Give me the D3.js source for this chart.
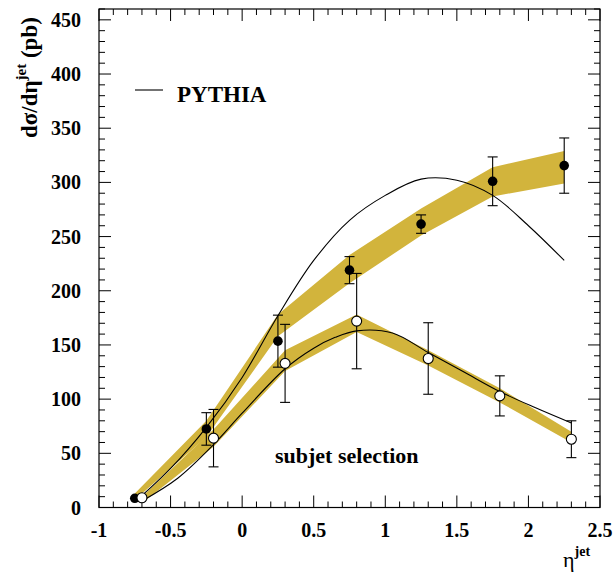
<!DOCTYPE html>
<html lang="en">
<head>
    <meta charset="UTF-8">
    <script src="https://d3js.org/d3.v7.min.js"></script>
    <style>
        body { margin: 0; background: white; }
        text { font-family: "Liberation Serif", "Times New Roman", serif; font-weight: bold; }
    </style>
</head>
<body>
<script>
    // filled points (left) and open points (subjet selection)
    var etaFull = [-0.75, -0.25, 0.25, 0.75, 1.25, 1.75, 2.25];
    var valFull = [8.5, 72.5, 153.5, 219, 261.5, 301, 315.5];
    var errFull = [1.5, 15, 24, 12.5, 8.5, 22.5, 25.5];
    var bandFullLo = [7, 65, 158, 207, 251, 287, 299];
    var bandFullHi = [13, 80, 178, 233, 276, 314, 329];

    var etaSub = [-0.7, -0.2, 0.3, 0.8, 1.3, 1.8, 2.3];
    var valSub = [9, 64, 133, 172, 137.5, 103, 63];
    var errSub = [1.5, 26.5, 36, 44, 33, 18.5, 17];
    var bandSubLo = [4, 56, 126, 162, 131, 97, 60];
    var bandSubHi = [10, 72, 145, 178, 145, 110, 70];

    // PYTHIA predictions
    var pyFullEta = [-0.75, -0.5, -0.25, 0, 0.25, 0.5, 0.75, 1.0, 1.25, 1.5, 1.75, 2.0, 2.25];
    var pyFullVal = [5, 36, 74, 120, 177, 228, 265, 288, 303, 302, 288, 260, 228];
    var pySubEta = [-0.7, -0.45, -0.2, 0, 0.3, 0.5, 0.65, 0.8, 1.05, 1.3, 1.55, 1.8, 2.05, 2.3];
    var pySubVal = [6, 27, 58, 87, 128, 147, 157, 163, 161, 143, 125, 107, 92, 78];

    var xTicks = [-1, -0.5, 0, 0.5, 1, 1.5, 2, 2.5];
    var yTicks = [0, 50, 100, 150, 200, 250, 300, 350, 400, 450];

    var W = 614, H = 574;
    var frameL = 99, frameR = 600, frameT = 9, frameB = 507.5;
    var bandColor = "#d2b43c";

    var svg = d3.select("body").append("svg")
        .attr("width", W)
        .attr("height", H);

    var x = d3.scaleLinear().domain([-1, 2.5]).range([frameL, frameR]);
    var y = d3.scaleLinear().domain([0, 460]).range([frameB, frameT]);

    function bandData(eta, lo, hi) {
        return eta.map(function(e, i) { return {x: e, lo: lo[i], hi: hi[i]}; });
    }
    var area = d3.area()
        .x(function(d) { return x(d.x); })
        .y0(function(d) { return y(d.lo); })
        .y1(function(d) { return y(d.hi); });

    svg.append("path").datum(bandData(etaFull, bandFullLo, bandFullHi))
        .attr("d", area).attr("fill", bandColor);
    svg.append("path").datum(bandData(etaSub, bandSubLo, bandSubHi))
        .attr("d", area).attr("fill", bandColor);

    var line = d3.line()
        .x(function(d) { return x(d[0]); })
        .y(function(d) { return y(d[1]); })
        .curve(d3.curveCatmullRom);

    svg.append("path").datum(d3.zip(pyFullEta, pyFullVal))
        .attr("d", line).attr("fill", "none").attr("stroke", "black").attr("stroke-width", 1.1);
    svg.append("path").datum(d3.zip(pySubEta, pySubVal))
        .attr("d", line).attr("fill", "none").attr("stroke", "black").attr("stroke-width", 1.1);

    // frame + ticks on all four sides (pointing in)
    var g = svg.append("g");
    g.append("rect").attr("x", frameL).attr("y", frameT)
        .attr("width", frameR - frameL).attr("height", frameB - frameT)
        .attr("fill", "none").attr("stroke", "black").attr("stroke-width", 1.2);

    var xMinor = d3.range(-10, 26).map(function(i) { return i / 10; });
    var yMinor = d3.range(0, 47).map(function(i) { return i * 10; });

    xMinor.forEach(function(v) {
        var major = Math.abs(v * 2 - Math.round(v * 2)) < 1e-6;
        var len = major ? 12 : 6;
        g.append("line").attr("x1", x(v)).attr("x2", x(v))
            .attr("y1", frameB).attr("y2", frameB - len).attr("stroke", "black");
        g.append("line").attr("x1", x(v)).attr("x2", x(v))
            .attr("y1", frameT).attr("y2", frameT + len).attr("stroke", "black");
    });
    yMinor.forEach(function(v) {
        var len = (v % 50 === 0) ? 12 : 6;
        g.append("line").attr("x1", frameL).attr("x2", frameL + len)
            .attr("y1", y(v)).attr("y2", y(v)).attr("stroke", "black");
        g.append("line").attr("x1", frameR).attr("x2", frameR - len)
            .attr("y1", y(v)).attr("y2", y(v)).attr("stroke", "black");
    });

    g.selectAll(".xlab").data(xTicks).enter().append("text")
        .attr("x", function(d) { return x(d); })
        .attr("y", 537)
        .attr("text-anchor", "middle")
        .attr("font-size", 20)
        .text(function(d) { return d; });
    g.selectAll(".ylab").data(yTicks).enter().append("text")
        .attr("x", 81)
        .attr("y", function(d) { return y(d) + 7; })
        .attr("text-anchor", "end")
        .attr("font-size", 20)
        .text(function(d) { return d; });

    // axis titles
    var xt = svg.append("text").attr("x", 563).attr("y", 567).attr("font-size", 22);
    xt.append("tspan").style("font-weight", "normal").text("η");
    xt.append("tspan").attr("dy", -11).attr("font-size", 14).text("jet");

    var yt = svg.append("text")
        .attr("transform", "translate(37,138) rotate(-90)")
        .attr("font-size", 23);
    yt.append("tspan").text("dσ/dη");
    yt.append("tspan").attr("dy", -11).attr("font-size", 15).text("jet");
    yt.append("tspan").attr("dy", 11).text(" (pb)");

    // error bars
    function drawErrors(eta, val, err) {
        var eg = svg.append("g").attr("stroke", "black").attr("stroke-width", 1.1);
        eta.forEach(function(e, i) {
            var cx = x(e);
            eg.append("line").attr("x1", cx).attr("x2", cx)
                .attr("y1", y(val[i] - err[i])).attr("y2", y(val[i] + err[i]));
            if (err[i] > 3) {
                [val[i] - err[i], val[i] + err[i]].forEach(function(v) {
                    eg.append("line").attr("x1", cx - 5).attr("x2", cx + 5)
                        .attr("y1", y(v)).attr("y2", y(v));
                });
            }
        });
    }
    drawErrors(etaFull, valFull, errFull);
    drawErrors(etaSub, valSub, errSub);

    svg.selectAll(".full").data(d3.zip(etaFull, valFull)).enter().append("circle")
        .attr("cx", function(d) { return x(d[0]); })
        .attr("cy", function(d) { return y(d[1]); })
        .attr("r", 4.8).attr("fill", "black");
    svg.selectAll(".sub").data(d3.zip(etaSub, valSub)).enter().append("circle")
        .attr("cx", function(d) { return x(d[0]); })
        .attr("cy", function(d) { return y(d[1]); })
        .attr("r", 5).attr("fill", "white").attr("stroke", "black").attr("stroke-width", 1.1);

    // legend and label
    svg.append("line").attr("x1", 135).attr("x2", 163).attr("y1", 90).attr("y2", 90)
        .attr("stroke", "black").attr("stroke-width", 1.1);
    svg.append("text").attr("x", 177).attr("y", 102).attr("font-size", 23).text("PYTHIA");
    svg.append("text").attr("x", 275).attr("y", 463).attr("font-size", 22).text("subjet selection");
</script>
</body>
</html>
